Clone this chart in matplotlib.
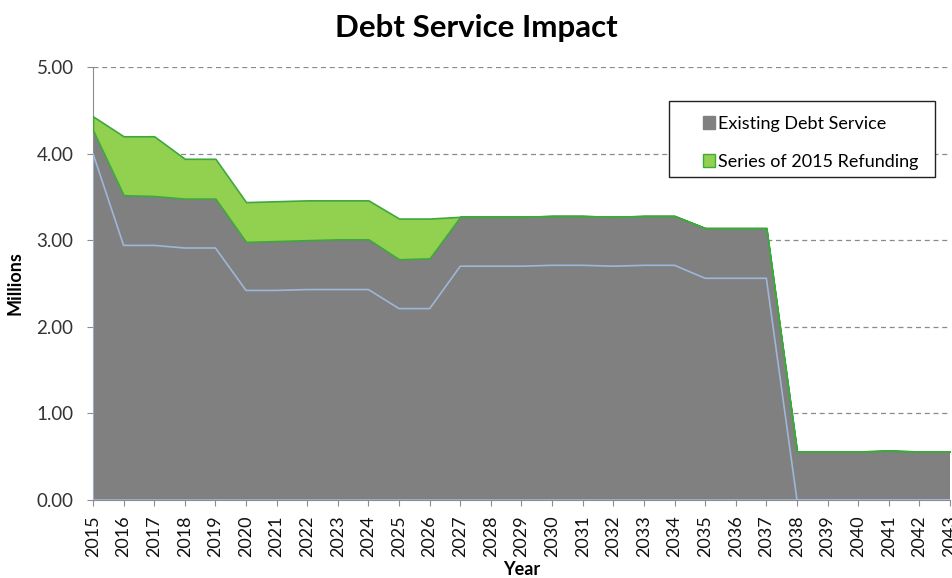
import matplotlib
matplotlib.use("Agg")
import matplotlib.pyplot as plt
from matplotlib.patches import Patch, Rectangle

plt.rcParams['font.family'] = ['Lato', 'DejaVu Sans']

years = list(range(2015, 2044))

# Millions of dollars per year
existing = [4.27, 3.52, 3.51, 3.48, 3.48, 2.98, 2.99, 3.00, 3.01, 3.01,
            2.78, 2.79, 3.27, 3.27, 3.27, 3.28, 3.28, 3.27, 3.28, 3.28,
            3.14, 3.14, 3.14, 0.56, 0.56, 0.56, 0.57, 0.56, 0.56]
refunding = [0.16, 0.68, 0.69, 0.46, 0.46, 0.46, 0.46, 0.46, 0.45, 0.45,
             0.47, 0.46, 0.00, 0.00, 0.00, 0.00, 0.00, 0.00, 0.00, 0.00,
             0.00, 0.00, 0.00, 0.00, 0.00, 0.00, 0.00, 0.00, 0.00]
principal = [4.00, 2.94, 2.94, 2.91, 2.91, 2.42, 2.42, 2.43, 2.43, 2.43,
             2.21, 2.21, 2.70, 2.70, 2.70, 2.71, 2.71, 2.70, 2.71, 2.71,
             2.56, 2.56, 2.56, 0.00, 0.00, 0.00, 0.00, 0.00, 0.00]

gray = '#808080'
green = '#92D050'
green_edge = '#3EA83E'
blue = '#9DB7D8'

W, H = 952, 578
fig = plt.figure(figsize=(W / 100, H / 100), dpi=100)
ax = fig.add_axes([93 / W, 78 / H, 857 / W, 433 / H])

total = [e + r for e, r in zip(existing, refunding)]
ax.fill_between(years, 0, existing, facecolor=gray, edgecolor='none', zorder=2)
ax.fill_between(years, existing, total, facecolor=green, edgecolor=green_edge,
                linewidth=1.2, zorder=3)
ax.fill_between(years, 0, principal, facecolor='none', edgecolor=blue,
                linewidth=1.2, zorder=4)

ax.set_xlim(2015, 2043)
ax.set_ylim(0, 5)
ax.set_yticks([0, 1, 2, 3, 4, 5])
ax.set_yticklabels([f'{v:.2f}' for v in range(6)])
ax.set_xticks(years)
ax.set_xticklabels([str(y) for y in years], rotation=90)

ax.grid(axis='y', linestyle=(0, (4, 3)), color='#8a8a8a', linewidth=0.9, zorder=1)
ax.set_axisbelow(True)
for side in ['top', 'right']:
    ax.spines[side].set_visible(False)
ax.spines['left'].set_color('#8c8c8c')
ax.spines['bottom'].set_color('#8c8c8c')
ax.tick_params(axis='y', length=4, color='#8c8c8c', pad=10, labelsize=13.5,
               labelcolor='#333333')
ax.tick_params(axis='x', length=4, color='#8c8c8c', pad=7, labelsize=13,
               labelcolor='#111111')

ax.set_ylabel('Millions', fontsize=13, fontweight='bold', labelpad=9)
# x axis title sits right at the bottom edge
fig.text((93 + 857 / 2) / W, 3 / H, 'Year', ha='center', va='baseline',
         fontsize=13, fontweight='bold')

fig.text(0.5, 1 - 28 / H, 'Debt Service Impact', ha='center', va='center',
         fontsize=22.5, fontweight='bold')

# legend box
fig.patches.append(Rectangle((669 / W, 1 - 177 / H), 266 / W, 76 / H,
                             transform=fig.transFigure, facecolor='white',
                             edgecolor='#222222', linewidth=1, zorder=5))
handles = [Patch(facecolor=gray, edgecolor=gray, label='Existing Debt Service'),
           Patch(facecolor=green, edgecolor=green_edge, label='Series of 2015 Refunding')]
leg = fig.legend(handles=handles, loc='upper left',
                 bbox_to_anchor=(692 / W, 1 - 105 / H), frameon=False,
                 fontsize=13, handlelength=0.7, handleheight=0.7,
                 handletextpad=0.15, labelspacing=1.2, borderpad=0.1)
leg.set_zorder(6)

fig.savefig('out.png', dpi=100)
